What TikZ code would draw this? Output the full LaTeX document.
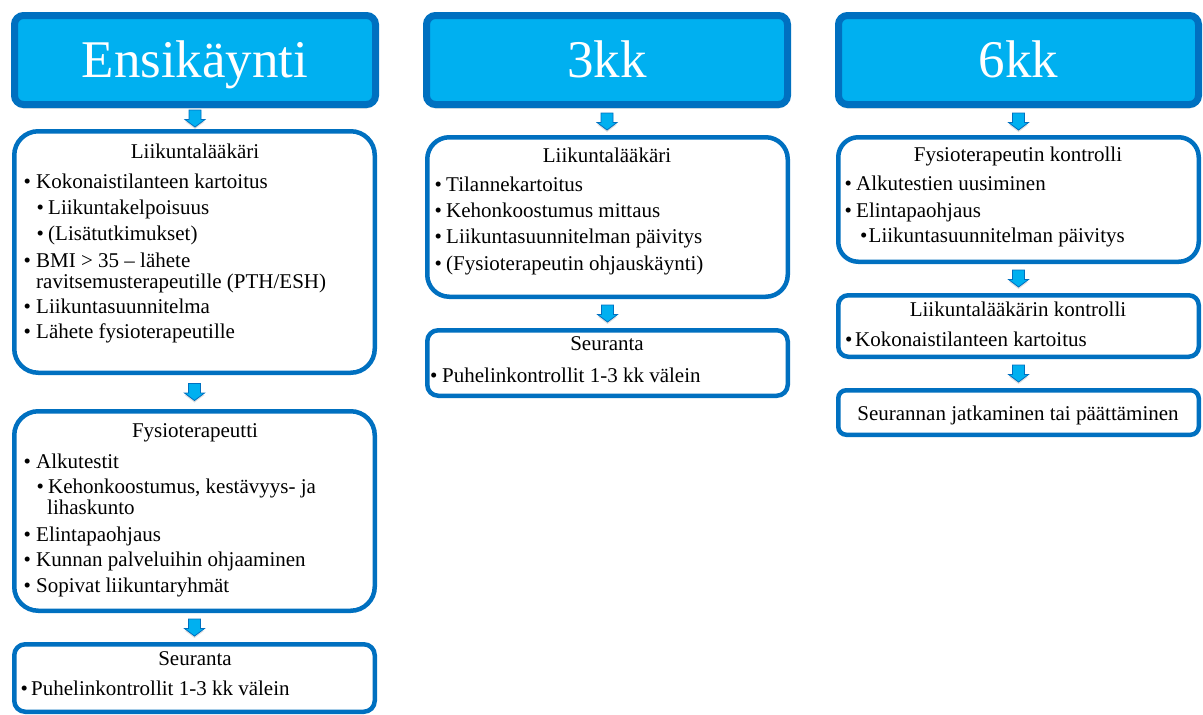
\documentclass[tikz,border=0pt]{standalone}
\usepackage{fontspec}
\setmainfont{Liberation Serif}
\usetikzlibrary{shadows,calc}
\definecolor{hdark}{RGB}{0,112,192}
\definecolor{hlight}{RGB}{0,176,240}
\newcommand\bl[1]{\makebox[#1pt][l]{•}}
\newcommand\flowarrow[2]{%
  \path[flow] let \p1=(#1.south), \p2=(#2.north),
    \n4={0.5*(\y1+\y2)}, \n1={\n4+8.5pt}, \n2={\n4-8.5pt}, \n3={\n4-1pt} in
    (\x1-6pt,\n1) -- (\x1+6pt,\n1) -- (\x1+6pt,\n3) -- (\x1+10pt,\n3)
    -- (\x1,\n2) -- (\x1-10pt,\n3) -- (\x1-6pt,\n3) -- cycle;}
\begin{document}
\begin{tikzpicture}[x=1pt,y=-1pt,
  header/.style={draw=hdark, line width=7pt, fill=hlight, rounded corners=9pt, inner sep=0pt,
    drop shadow={opacity=0.3, shadow xshift=0pt, shadow yshift=-4pt}},
  box/.style={draw=hdark, line width=4.5pt, fill=white, inner sep=0pt, minimum width=360.5pt},
  htext/.style={text=white, font=\fontsize{53}{60}\selectfont, anchor=base, inner sep=0pt},
  ttl/.style={font=\fontsize{21}{24}\selectfont, anchor=base, inner sep=0pt},
  itm/.style={font=\fontsize{21}{24}\selectfont, anchor=base west, inner sep=0pt},
  flow/.style={fill=hlight, draw=hdark, line width=0.8pt,
    drop shadow={opacity=0.25, shadow xshift=0pt, shadow yshift=-2pt}}
]
\useasboundingbox (0,0) rectangle (1203,715);

% headers
\node[header, minimum width=361pt, minimum height=89pt] (h1) at (195,60) {};
\node[htext] (h1t) at (195,77) {Ensikäynti};
\node[header, minimum width=361pt, minimum height=89pt] (h2) at (607,60) {};
\node[htext] (h2t) at (607,77) {3kk};
\node[header, minimum width=360pt, minimum height=89pt] (h3) at (1018.5,60) {};
\node[htext] (h3t) at (1018.5,77) {6kk};

% boxes
\node[box, rounded corners=24pt, minimum height=241.5pt] (b11) at (194.5,252) {};
\node[box, rounded corners=24pt, minimum height=199.5pt] (b12) at (194.5,511) {};
\node[box, rounded corners=11pt, minimum height=67.5pt] (b13) at (194.5,678) {};
\node[box, rounded corners=22pt, minimum height=159.5pt] (b21) at (607.5,217) {};
\node[box, rounded corners=11pt, minimum height=65.5pt] (b22) at (607.5,363) {};
\node[box, rounded corners=20pt, minimum height=124.5pt] (b31) at (1018.5,199.5) {};
\node[box, rounded corners=10pt, minimum height=61.5pt] (b32) at (1018.5,326) {};
\node[box, rounded corners=8pt, minimum height=44.5pt] (b33) at (1018.5,412.5) {};

% arrows
\flowarrow{h1}{b11}
\flowarrow{b11}{b12}
\flowarrow{b12}{b13}
\flowarrow{h2}{b21}
\flowarrow{b21}{b22}
\flowarrow{h3}{b31}
\flowarrow{b31}{b32}
\flowarrow{b32}{b33}

% column 1, box 1
\node[ttl] (t11) at (195,158) {Liikuntalääkäri};
\node[itm] (t11a) at (23.5,188) {\bl{12.5}Kokonaistilanteen kartoitus};
\node[itm] (t11b) at (36.5,214) {\bl{11.5}Liikuntakelpoisuus};
\node[itm] (t11c) at (36.5,240) {\bl{11.5}(Lisätutkimukset)};
\node[itm] (t11d) at (23.5,267) {\bl{12.5}BMI > 35 – lähete};
\node[itm] (t11e) at (36,288) {ravitsemusterapeutille (PTH/ESH)};
\node[itm] (t11f) at (23.5,313) {\bl{12.5}Liikuntasuunnitelma};
\node[itm] (t11g) at (23.5,338) {\bl{12.5}Lähete fysioterapeutille};

% column 1, box 2
\node[ttl] (t12) at (195,437) {Fysioterapeutti};
\node[itm] (t12a) at (23.5,468) {\bl{12.5}Alkutestit};
\node[itm] (t12b) at (36.5,493) {\bl{11.5}Kehonkoostumus, kestävyys- ja};
\node[itm] (t12c) at (47,514) {lihaskunto};
\node[itm] (t12d) at (23.5,541) {\bl{12.5}Elintapaohjaus};
\node[itm] (t12e) at (23.5,566) {\bl{12.5}Kunnan palveluihin ohjaaminen};
\node[itm] (t12f) at (23.5,592) {\bl{12.5}Sopivat liikuntaryhmät};

% column 1, box 3
\node[ttl] (t13) at (195,665) {Seuranta};
\node[itm] (t13a) at (20.5,695) {\bl{10.5}Puhelinkontrollit 1-3 kk välein};

% column 2, box 1
\node[ttl] (t21) at (607,162) {Liikuntalääkäri};
\node[itm] (t21a) at (434.5,191) {\bl{11.5}Tilannekartoitus};
\node[itm] (t21b) at (434.5,217) {\bl{11.5}Kehonkoostumus mittaus};
\node[itm] (t21c) at (434.5,243) {\bl{11.5}Liikuntasuunnitelman päivitys};
\node[itm] (t21d) at (434.5,270) {\bl{11.5}(Fysioterapeutin ohjauskäynti)};

% column 2, box 2
\node[ttl] (t22) at (607,350) {Seuranta};
\node[itm] (t22a) at (430,382) {\bl{12}Puhelinkontrollit 1-3 kk välein};

% column 3, box 1
\node[ttl] (t31) at (1018,161) {Fysioterapeutin kontrolli};
\node[itm] (t31a) at (844.5,190) {\bl{11.5}Alkutestien uusiminen};
\node[itm] (t31b) at (844.5,217) {\bl{11.5}Elintapaohjaus};
\node[itm] (t31c) at (860,242) {\bl{8.5}Liikuntasuunnitelman päivitys};

% column 3, box 2
\node[ttl] (t32) at (1018,316) {Liikuntalääkärin kontrolli};
\node[itm] (t32a) at (845,346) {\bl{10}Kokonaistilanteen kartoitus};

% column 3, box 3
\node[ttl] (t33) at (1018,420) {Seurannan jatkaminen tai päättäminen};
\end{tikzpicture}
\end{document}
